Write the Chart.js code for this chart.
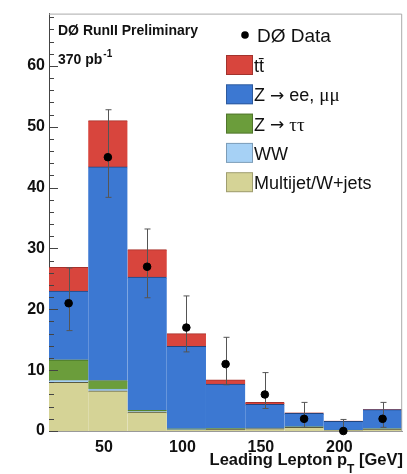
<!DOCTYPE html>
<html>
<head>
<meta charset="utf-8">
<script src="https://cdn.jsdelivr.net/npm/chart.js@4"></script>
<style>
  html, body { margin: 0; padding: 0; background: #fff; }
  #wrap { width: 407px; height: 474px; }
</style>
</head>
<body>
<div id="wrap"><canvas id="myChart"></canvas></div>
<script>
// bin centres of the leading lepton pT histogram (25 GeV bins from 15 to 240)
var binCenters = [27.5, 52.5, 77.5, 102.5, 127.5, 152.5, 177.5, 202.5, 227.5];

// stacked backgrounds, bottom to top
var multijet = [8.0, 6.6, 3.1, 0.2, 0.3, 0.4, 0.6, 0.1, 0.3];
var ww       = [0.3, 0.3, 0.1, 0.05, 0.05, 0.05, 0.05, 0.02, 0.05];
var ztautau  = [3.4, 1.4, 0.2, 0.1, 0.1, 0.05, 0.05, 0.02, 0.05];
var zeemumu  = [11.3, 35.1, 21.9, 13.55, 7.25, 3.9, 2.2, 1.46, 3.1];
var ttbar    = [3.9, 7.6, 4.5, 2.1, 0.7, 0.3, 0.1, 0.05, 0.05];

// DØ data with error bars
var dataCounts = [21, 45, 27, 17, 11, 6, 2, 0, 2];
var errHigh    = [26.8, 52.8, 33.2, 22.2, 15.4, 9.6, 4.7, 1.9, 4.7];
var errLow     = [16.5, 38.4, 21.9, 13.0, 7.6, 3.7, 0.6, 0, 0.6];

var yTicks = [0, 10, 20, 30, 40, 50, 60];
var xTicks = [50, 100, 150, 200];

var FONT = "'Liberation Sans', Arial, sans-serif";
var SYM = "'DejaVu Sans', sans-serif";
var GREEK = "'Liberation Serif', serif";

function pts(arr) {
  return arr.map(function (v, i) { return { x: binCenters[i], y: v }; });
}

function barSet(label, values, fill, line) {
  return {
    type: 'bar',
    label: label,
    data: pts(values),
    backgroundColor: fill,
    borderColor: line,
    borderWidth: { top: 1, left: 0, right: 0, bottom: 0 },
    borderSkipped: false,
    barPercentage: 1.0,
    categoryPercentage: 1.0,
    stack: 'mc',
    order: 1
  };
}

// error bars under the data points
var errorBars = {
  id: 'errorBars',
  beforeDatasetDraw: function (chart, args) {
    if (args.index !== 5) return;
    var c = chart.ctx, xs = chart.scales.x, ys = chart.scales.y;
    c.save();
    c.strokeStyle = '#555';
    c.lineWidth = 1;
    for (var i = 0; i < binCenters.length; i++) {
      var px = Math.round(xs.getPixelForValue(binCenters[i])) + 0.5;
      var top = ys.getPixelForValue(errHigh[i]);
      var bot = ys.getPixelForValue(errLow[i]);
      c.beginPath();
      c.moveTo(px, top); c.lineTo(px, bot);
      c.moveTo(px - 3, top); c.lineTo(px + 3, top);
      c.moveTo(px - 3, bot); c.lineTo(px + 3, bot);
      c.stroke();
    }
    c.restore();
  }
};

// draw a row of text pieces, each with its own font
function drawPieces(c, pieces, x, y) {
  for (var i = 0; i < pieces.length; i++) {
    c.font = pieces[i][1];
    c.fillText(pieces[i][0], x, y);
    x += c.measureText(pieces[i][0]).width;
  }
}

// frame, inward ticks, labels and legend
var decorations = {
  id: 'decorations',
  afterDraw: function (chart) {
    var c = chart.ctx, a = chart.chartArea, ys = chart.scales.y;
    c.save();
    // frame top and right
    c.strokeStyle = '#aaa';
    c.lineWidth = 1;
    c.beginPath();
    c.moveTo(a.left, a.top + 0.5); c.lineTo(a.right - 0.5, a.top + 0.5);
    c.lineTo(a.right - 0.5, a.bottom);
    c.stroke();
    // y ticks pointing inwards
    c.strokeStyle = '#444';
    c.beginPath();
    for (var v = 0; v <= ys.max; v += 2) {
      var py = Math.round(ys.getPixelForValue(v)) + 0.5;
      var len = (v % 10 === 0) ? 9 : 5;
      c.moveTo(a.left, py); c.lineTo(a.left + len, py);
    }
    c.stroke();

    c.fillStyle = '#111';
    c.textBaseline = 'alphabetic';
    c.textAlign = 'left';
    c.font = 'bold 14px ' + FONT;
    c.fillText('D\u00D8 RunII Preliminary', 58, 35);
    c.fillText('370 pb', 58, 64);
    var w = c.measureText('370 pb').width;
    c.font = 'bold 10px ' + FONT;
    c.fillText('-1', 58 + w + 1, 57);

    // x axis title with subscript
    c.font = 'bold 16.5px ' + FONT;
    var t1 = 'Leading Lepton p', t2 = ' [GeV]';
    var w1 = c.measureText(t1).width, w2 = c.measureText(t2).width;
    c.font = 'bold 12px ' + FONT;
    var ws = c.measureText('T').width;
    var x0 = 403 - (w1 + ws + w2);
    c.font = 'bold 16.5px ' + FONT;
    c.fillText(t1, x0, 465);
    c.fillText(t2, x0 + w1 + ws, 465);
    c.font = 'bold 12px ' + FONT;
    c.fillText('T', x0 + w1, 473);

    // legend
    c.fillStyle = '#000';
    c.beginPath();
    c.arc(245, 35, 3.8, 0, Math.PI * 2);
    c.fill();
    c.fillStyle = '#111';
    c.textBaseline = 'middle';
    drawPieces(c, [['D\u00D8 Data', '19px ' + FONT]], 257, 37);
    var txt = '18px ' + FONT, arr = '17px ' + SYM, grk = '19px ' + GREEK;
    var entries = [
      [[['tt\u0304', txt]], '#d8453d'],
      [[['Z ', txt], ['\u2192', arr], [' ee, ', txt], ['\u03BC\u03BC', grk]], '#3c78d2'],
      [[['Z ', txt], ['\u2192', arr], [' ', txt], ['\u03C4\u03C4', grk]], '#6b9d3b'],
      [[['WW', txt]], '#a6d1f5'],
      [[['Multijet/W+jets', txt]], '#d5d396']
    ];
    for (var i = 0; i < entries.length; i++) {
      var yy = 55 + i * 29.3;
      c.fillStyle = entries[i][1];
      c.fillRect(226, yy, 27, 20);
      c.strokeStyle = 'rgba(0,0,0,0.25)';
      c.strokeRect(226.5, yy + 0.5, 26, 19);
      c.fillStyle = '#111';
      drawPieces(c, entries[i][0], 254, yy + 12);
    }
    c.restore();
  }
};

var ctx = document.getElementById('myChart').getContext('2d');

var myChart = new Chart(ctx, {
  type: 'bar',
  data: {
    datasets: [
      barSet('Multijet/W+jets', multijet, '#d5d396', '#5a5a40'),
      barSet('WW', ww, '#a6d1f5', '#7aa6cc'),
      barSet('Z \u2192 \u03C4\u03C4', ztautau, '#6b9d3b', '#3f6a22'),
      barSet('Z \u2192 ee, \u03BC\u03BC', zeemumu, '#3c78d2', '#22447e'),
      barSet('tt', ttbar, '#d8453d', '#a8302a'),
      {
        type: 'scatter',
        label: 'D\u00D8 Data',
        data: pts(dataCounts),
        backgroundColor: '#000',
        borderColor: '#000',
        pointRadius: 3.8,
        pointHoverRadius: 3.8,
        clip: false,
        order: 0
      }
    ]
  },
  options: {
    responsive: true,
    maintainAspectRatio: false,
    animation: false,
    layout: { padding: { top: 8, right: 4, left: 0, bottom: 0 } },
    plugins: {
      legend: { display: false },
      tooltip: { enabled: false }
    },
    scales: {
      x: {
        type: 'linear',
        min: 15,
        max: 240,
        offset: false,
        afterBuildTicks: function (scale) {
          scale.ticks = xTicks.map(function (v) { return { value: v }; });
        },
        afterFit: function (scale) { scale.height = 43; },
        grid: { display: false, drawTicks: false },
        border: { display: true, color: '#999' },
        ticks: {
          padding: 7,
          color: '#111',
          font: { family: FONT, size: 16, weight: 'bold' }
        }
      },
      y: {
        stacked: true,
        min: 0,
        max: 68.6,
        afterBuildTicks: function (scale) {
          scale.ticks = yTicks.map(function (v) { return { value: v }; });
        },
        afterFit: function (scale) { scale.width = 49; },
        grid: { display: false, drawTicks: false },
        border: { display: true, color: '#444' },
        ticks: {
          padding: 4,
          color: '#111',
          font: { family: FONT, size: 16, weight: 'bold' }
        }
      }
    }
  },
  plugins: [errorBars, decorations]
});
</script>
</body>
</html>
